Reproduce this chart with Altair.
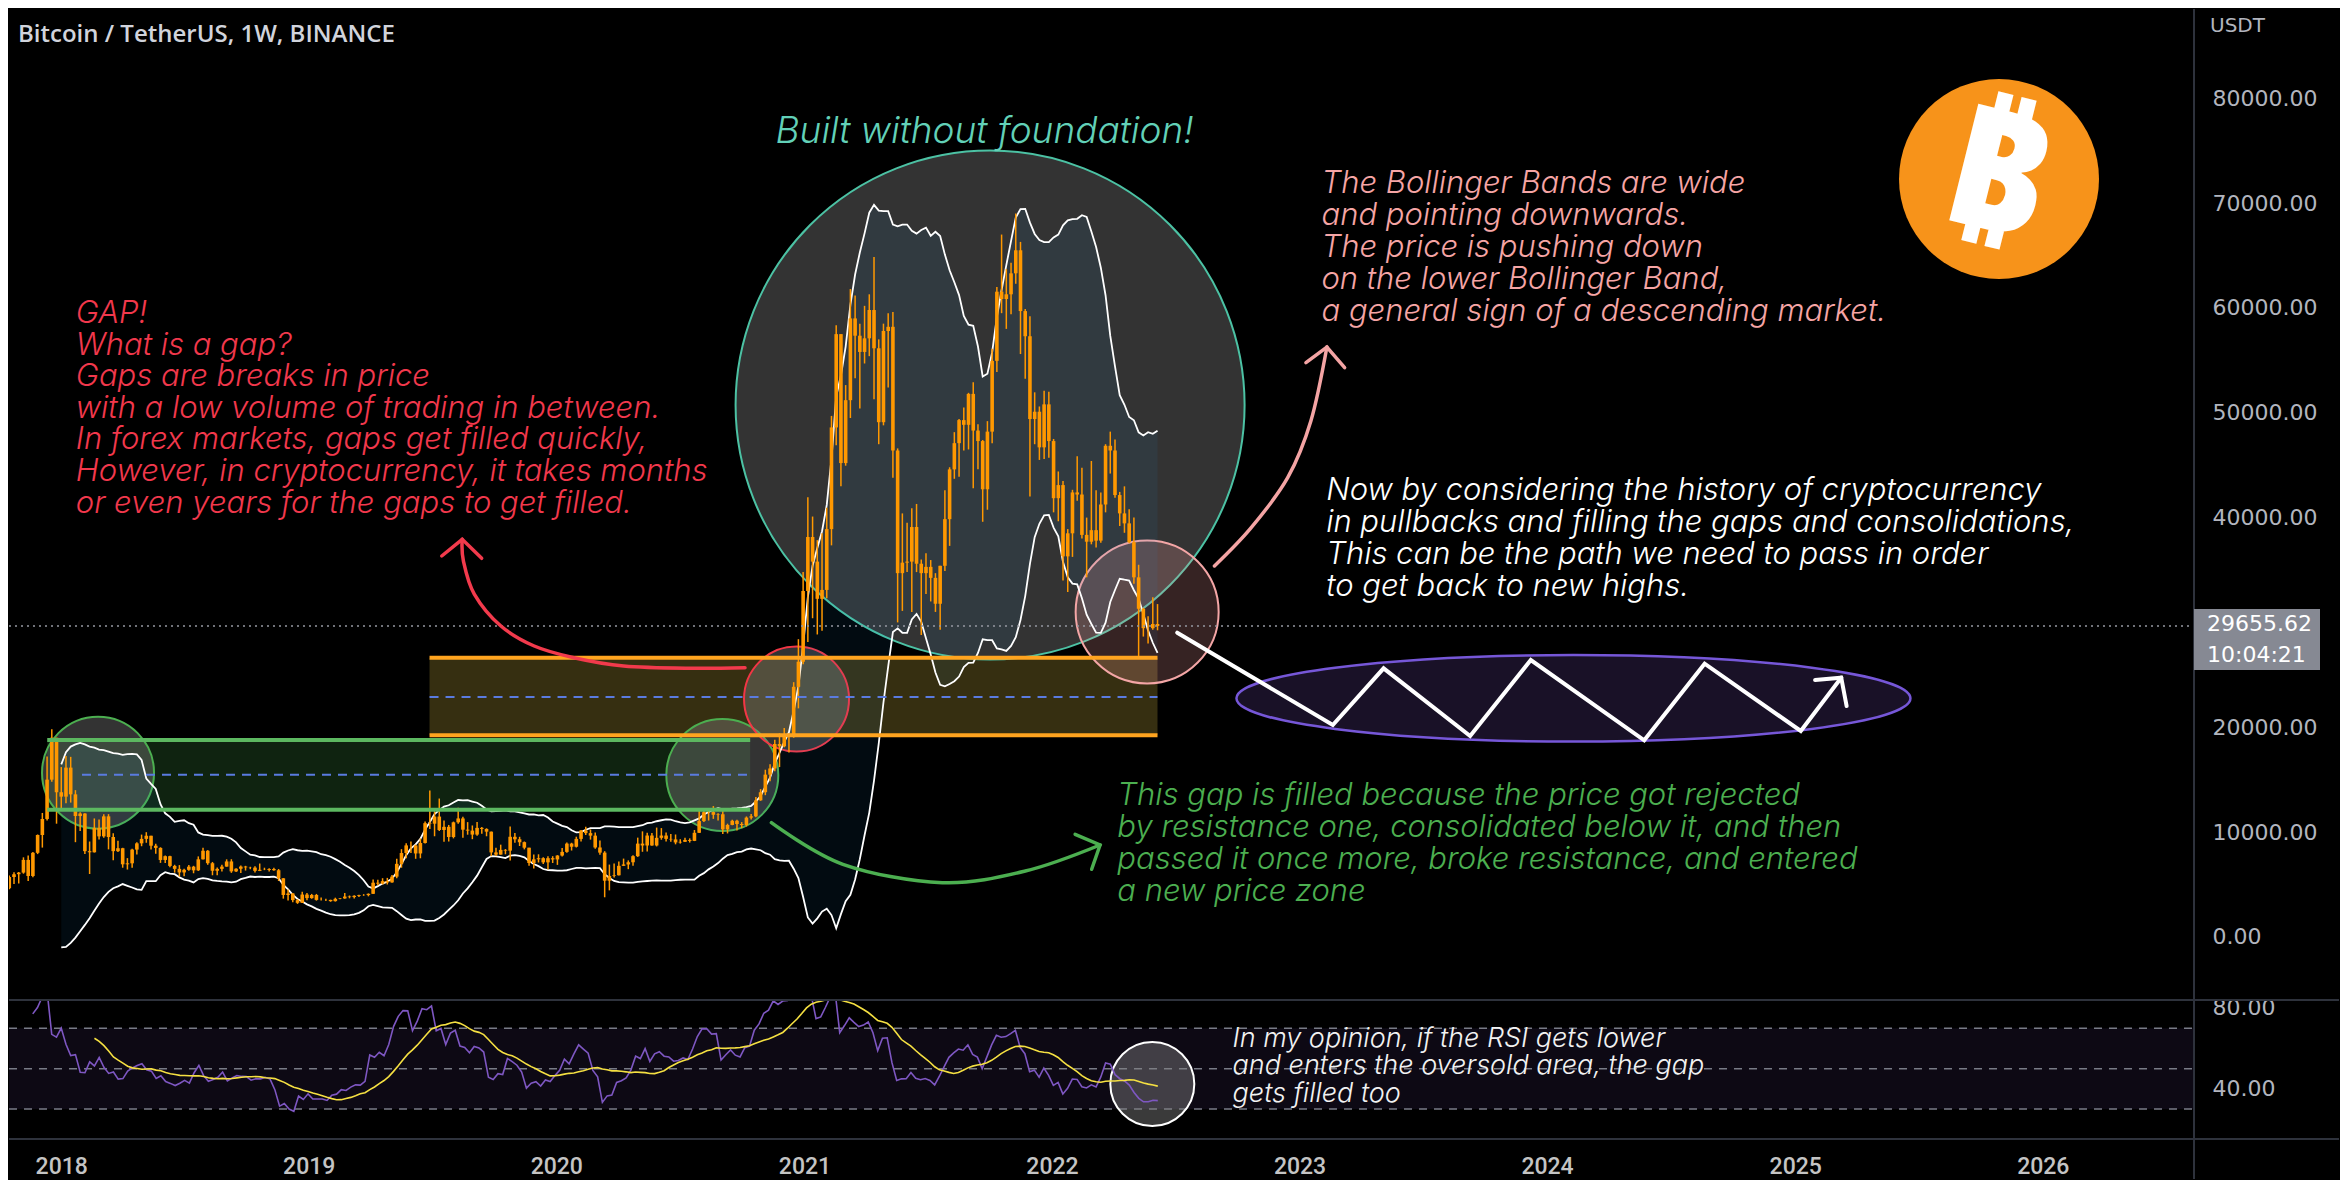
import altair as alt
import numpy as np
import pandas as pd

# ------------------------------------------------------------------ data
FIRST_WEEK = "2017-08-14"   # weekly candles, BTC/USDT (Binance)
FIRST_OPEN = 4261

CLOSE_2017 = [4086, 4310, 4509, 4130, 3699, 3660, 4378, 4640, 5710, 5980, 6133, 7345, 5811, 8021, 9720, 11250, 15000, 19000, 13800, 13380]
HIGH_2017 = [4485, 4453, 4939, 4788, 4394, 4123, 4406, 4658, 5856, 6171, 6189, 7590, 7776, 8100, 9771, 11825, 17204, 19798, 19000, 16200]
LOW_2017 = [3850, 3950, 4124, 3900, 2817, 3505, 3653, 4110, 4550, 5037, 5096, 6030, 5325, 5699, 7900, 8520, 11100, 14800, 10800, 12050]

CLOSE_2018 = [16150, 13600, 11530, 11770, 8180, 8070, 10400, 9590, 11500, 9530, 8180, 8460, 6925, 7020, 8330, 8925, 9350, 9650, 8700, 8490, 7340, 7700, 6770, 6490, 6150, 6400, 6700, 6350, 7400, 8220, 7030, 6310, 6490, 6705, 7200, 6250, 6500, 6710, 6630, 6610, 6300, 6400, 6390, 6480, 6360, 5590, 4000, 4140, 3510, 3250, 4040, 3700, 4000]
HIGH_2018 = [17252, 17176, 14000, 11900, 11785, 9100, 11300, 11200, 11700, 11710, 9880, 9177, 8500, 7515, 8400, 9035, 9760, 9990, 9650, 8880, 8550, 7770, 7750, 6880, 6850, 6500, 6850, 6780, 7680, 8500, 8280, 7150, 6615, 6890, 7400, 7410, 6560, 6800, 6780, 6690, 6740, 7000, 6600, 6550, 6600, 6480, 5610, 4530, 4200, 3600, 4300, 4200, 4100]
LOW_2018 = [12750, 12812, 9035, 10100, 7900, 6000, 8050, 9300, 9470, 8350, 7323, 8100, 6600, 6425, 6600, 7860, 8650, 8980, 8340, 7940, 7060, 7060, 6650, 6130, 5750, 5790, 6300, 6070, 6290, 7390, 6880, 5880, 5880, 6250, 6700, 6110, 6180, 6090, 6330, 6460, 6150, 6280, 6370, 6250, 6300, 5330, 3650, 3480, 3300, 3150, 3230, 3500, 3640]

CLOSE_2019 = [3530, 3530, 3530, 3410, 3630, 3670, 3850, 3800, 3920, 4000, 3990, 4110, 5170, 5080, 5320, 5200, 5750, 6970, 8000, 8730, 8720, 7960, 8960, 10850, 10800, 11480, 10200, 10500, 9530, 10930, 11300, 10230, 10140, 9760, 10400, 10300, 10040, 8060, 7850, 8300, 8230, 9550, 9310, 9040, 8510, 7050, 7400, 7510, 7110, 7510, 7390, 7760]
HIGH_2019 = [4100, 3760, 3650, 3550, 3740, 3700, 4200, 3950, 3970, 4030, 4080, 4150, 5470, 5460, 5600, 5630, 5900, 7450, 8370, 8940, 9100, 8800, 9390, 11000, 13970, 12000, 13200, 11100, 10680, 11000, 12330, 11450, 10950, 10630, 10950, 10480, 10360, 10050, 8500, 8800, 8380, 10540, 9900, 9550, 9100, 8500, 7860, 7880, 7600, 7700, 7700, 7800]
LOW_2019 = [3460, 3470, 3430, 3350, 3370, 3580, 3650, 3680, 3670, 3800, 3920, 3870, 4090, 4920, 5000, 5000, 5160, 5600, 6600, 7500, 8000, 7450, 7500, 8900, 10300, 9600, 10100, 9070, 9100, 9400, 10800, 9470, 9750, 9320, 9650, 9850, 9600, 7700, 7720, 7850, 7880, 7300, 8970, 8670, 8350, 6790, 6530, 7100, 6950, 6430, 7050, 6870]

CLOSE_2020 = [8110, 8900, 8600, 9350, 10150, 9900, 9660, 8530, 8040, 5360, 5820, 5880, 6780, 6910, 7120, 7700, 8900, 8720, 9670, 8720, 9450, 9670, 9350, 9300, 9010, 9070, 9250, 9160, 9930, 11050, 11900, 11910, 11650, 11700, 10260, 10680, 11080, 10770, 10670, 11380, 11500, 13030, 13800, 15480, 16070, 18400, 18180, 19150, 19270, 23860, 26250, 33000]
HIGH_2020 = [8470, 9000, 8980, 9560, 10190, 10500, 10250, 9960, 9190, 8180, 6900, 7000, 7200, 7470, 7300, 7790, 9470, 10070, 9940, 9900, 10430, 10380, 9950, 9820, 9770, 9320, 9460, 9400, 10200, 12100, 12120, 12080, 12480, 11800, 12090, 10800, 11180, 11180, 10950, 11490, 11720, 13350, 14100, 15950, 16480, 18800, 19420, 19920, 19400, 24300, 28400, 34800]
LOW_2020 = [7680, 8030, 8240, 8530, 9100, 9730, 9280, 8410, 7840, 3780, 4440, 5670, 5860, 6760, 6460, 6790, 7630, 8120, 8150, 8700, 8630, 9270, 9110, 9080, 8830, 8900, 9050, 9000, 9140, 9900, 10950, 11100, 11260, 11100, 9820, 9870, 10650, 10140, 10370, 10530, 11200, 11420, 12980, 13520, 14860, 15800, 16200, 18100, 17600, 19000, 21800, 26000]

CLOSE_2021 = [38150, 35800, 32250, 33100, 38900, 48600, 57500, 45200, 51200, 59000, 57350, 55800, 57100, 59800, 56150, 49100, 57800, 58200, 46400, 34700, 35700, 35800, 39100, 35600, 34700, 35300, 34250, 31780, 35400, 39850, 44600, 47100, 49300, 48850, 51800, 48300, 47300, 42700, 48200, 54950, 61550, 60850, 61300, 63300, 65500, 59700, 57300, 49400, 50100, 46700, 50800, 47300]
HIGH_2021 = [41950, 40100, 37850, 38500, 40950, 49700, 58350, 57500, 52640, 61800, 61180, 58500, 60200, 61300, 64850, 57000, 58500, 59500, 59600, 46600, 40400, 39500, 40900, 41300, 36000, 36600, 35950, 34700, 35400, 42600, 44800, 48150, 49400, 50500, 51900, 52900, 48900, 47400, 49200, 56100, 62000, 67000, 63700, 64300, 69000, 66300, 59900, 59200, 51950, 50600, 52100, 52000]
LOW_2021 = [28130, 30400, 28850, 29200, 32300, 37350, 46900, 43000, 44950, 49500, 53300, 50400, 54700, 55400, 51300, 47000, 48800, 52400, 43800, 30000, 31100, 34800, 31000, 34800, 28800, 32700, 32000, 31000, 29300, 34900, 37300, 43700, 43900, 46400, 46500, 42800, 44600, 39600, 40750, 47100, 53900, 59500, 58000, 59400, 62300, 55600, 53250, 42000, 47000, 45500, 45600, 45700]

CLOSE_2022 = [41850, 43100, 36300, 38500, 42400, 42200, 38350, 37700, 38800, 37800, 41250, 46850, 46400, 42150, 40400, 39450, 37650, 34300, 31300, 29450, 29450, 29850, 29655.62]
HIGH_2022 = [47500, 44400, 43500, 38900, 42650, 45850, 44750, 40000, 45400, 42600, 42400, 47000, 48200, 47450, 42450, 42980, 40800, 40020, 35500, 31400, 30600, 32400, 31750]
LOW_2022 = [40500, 39650, 34000, 32900, 36250, 41600, 38000, 34300, 37450, 37150, 37600, 40500, 44200, 41900, 39200, 38550, 37550, 33700, 26700, 28650, 28000, 29300, 29250]

LAST_PRICE = 29655.62
COUNTDOWN = "10:04:21"
TITLE = "Bitcoin / TetherUS, 1W, BINANCE"
CURRENCY = "USDT"
PRICE_TICKS = [0, 10000, 20000, 40000, 50000, 60000, 70000, 80000]
RSI_TICKS = [40, 80]
YEARS = list(range(2018, 2027))

# ------------------------------------------------ drawings (decimal year, price)
GREEN_BOX = (2017.924, 2020.775, 12134, 18783, 15473, 2018.065)
ORANGE_BOX = (2019.4745, 2022.427, 19231, 26640, 22885, 2019.4745)
BIG_CIRCLE = (2021.748, 50740)
GREEN_C1 = (2018.130, 15664)
GREEN_C2 = (2020.662, 15444)
RED_C = (2020.963, 22694)
PINK_C = (2022.385, 30993)
RSI_C = (2022.405, 42.4)
ELLIPSE = (2024.114, 22761)
LOGO = (2025.840, 72298)

RED_ARROW = [(2020.754, 25680), (2020.531, 25623), (2020.262, 25842), (2020.060, 26634), (2019.899, 27750),
             (2019.764, 29658), (2019.656, 32710), (2019.612, 35858), (2019.607, 37928)]
RED_HEAD = [(2019.524, 36335), (2019.607, 37928), (2019.686, 36116)]
GREEN_ARROW = [(2020.861, 10894), (2021.151, 6926), (2021.554, 5170), (2021.891, 6286), (2022.194, 8767)]
GREEN_HEAD = [(2022.093, 9787), (2022.194, 8767), (2022.160, 6449)]
PINK_ARROW = [(2022.658, 35381), (2022.807, 39035), (2022.955, 43804), (2023.049, 49213), (2023.114, 56272)]
PINK_HEAD = [(2023.029, 54775), (2023.114, 56272), (2023.186, 54298)]
ZIGZAG = [(2022.507, 29019), (2023.138, 20214), (2023.344, 25623), (2023.695, 19164), (2023.941, 26414),
          (2024.401, 18754), (2024.646, 26061), (2025.036, 19641), (2025.200, 24726)]
ZIG_HEAD = [(2025.094, 24507), (2025.200, 24726), (2025.222, 22026)]

HEADLINE = ("Built without foundation!", 2020.878, 75762)
RED_TEXT = (["GAP!", "What is a gap?", "Gaps are breaks in price",
             "with a low volume of trading in between.",
             "In forex markets, gaps get filled quickly,",
             "However, in cryptocurrency, it takes months",
             "or even years for the gaps to get filled."], 2018.040, 58562)
PINK_TEXT = (["The Bollinger Bands are wide", "and pointing downwards.", "The price is pushing down",
              "on the lower Bollinger Band,", "a general sign of a descending market."], 2023.092, 70992)
WHITE_TEXT = (["Now by considering the history of cryptocurrency",
               "in pullbacks and filling the gaps and consolidations,",
               "This can be the path we need to pass in order", "to get back to new highs."], 2023.111, 41716)
GREEN_TEXT = (["This gap is filled because the price got rejected",
               "by resistance one, consolidated below it, and then",
               "passed it once more, broke resistance, and entered", "a new price zone"], 2022.264, 12582)
RSI_TEXT = (["In my opinion, if the RSI gets lower", "and enters the oversold area, the gap",
             "gets filled too"], 2022.729, 60.7)

# ------------------------------------------------------------------ frame
closes = CLOSE_2017 + CLOSE_2018 + CLOSE_2019 + CLOSE_2020 + CLOSE_2021 + CLOSE_2022
highs = HIGH_2017 + HIGH_2018 + HIGH_2019 + HIGH_2020 + HIGH_2021 + HIGH_2022
lows = LOW_2017 + LOW_2018 + LOW_2019 + LOW_2020 + LOW_2021 + LOW_2022
n = len(closes)
c = np.array(closes, dtype=float)
o = np.concatenate([[FIRST_OPEN], c[:-1]])
h = np.maximum.reduce([np.array(highs, float), o, c])
l = np.minimum.reduce([np.array(lows, float), o, c])
dates = pd.date_range(FIRST_WEEK, periods=n, freq="7D")
df = pd.DataFrame({"date": dates, "open": o, "close": c, "high": h, "low": l})

# Bollinger bands (20, 2)
cs = pd.Series(c)
mid = cs.rolling(20).mean()
sd = cs.rolling(20).std(ddof=0)
df["bb_up"] = mid + 2 * sd
df["bb_lo"] = mid - 2 * sd

# RSI 14 (Wilder) and its 14 SMA
delta = np.diff(c, prepend=np.nan)
gain = np.where(delta > 0, delta, 0.0)
loss = np.where(delta < 0, -delta, 0.0)
ag = np.full(n, np.nan)
al = np.full(n, np.nan)
ag[14] = gain[1:15].mean()
al[14] = loss[1:15].mean()
for i in range(15, n):
    ag[i] = (ag[i - 1] * 13 + gain[i]) / 14
    al[i] = (al[i - 1] * 13 + loss[i]) / 14
df["rsi"] = 100 - 100 / (1 + ag / al)
df["rsi_ma"] = df["rsi"].rolling(14).mean()


def ts(y):
    return pd.Timestamp("2018-01-01") + pd.Timedelta(days=(y - 2018) * 365.25)


def pts(points):
    return pd.DataFrame({"t": [ts(a) for a, _ in points], "p": [b for _, b in points], "i": list(range(len(points)))})


# ------------------------------------------------------------------ scales
W, H1, H2 = 2185, 991, 139
XS = alt.Scale(domain=[alt.DateTime(year=2017, month=10, date=16), alt.DateTime(year=2026, month=8, date=12)])
YS = alt.Scale(domain=[-6019, 88516], nice=False, zero=False)
RS = alt.Scale(domain=[15.2, 83.95], nice=False, zero=False)
LBL = dict(labelFont="DejaVu Sans", labelFontSize=22, labelColor="#b2b5be", ticks=False,
           domain=False, grid=False, labelPadding=18, title=None)
YAX = alt.Axis(orient="right", values=PRICE_TICKS, format=".2f", **LBL)
RAX = alt.Axis(orient="right", values=RSI_TICKS, format=".2f", **LBL)
XAX = alt.Axis(values=[alt.DateTime(year=y, month=1, date=1) for y in YEARS], format="%Y",
               labelFont="Roboto", labelFontWeight=500, labelFontSize=23, labelColor="#c4c4c4",
               domain=False, ticks=False, grid=False, labelPadding=34, labelBaseline="alphabetic", title=None)


def X(f):
    return alt.X(f, scale=XS, axis=None)


def Y(f):
    return alt.Y(f, scale=YS, axis=YAX)


def XR(f):
    return alt.X(f, scale=XS, axis=XAX)


def YR(f):
    return alt.Y(f, scale=RS, axis=RAX)


ONE = pd.DataFrame({"k": [0]})
ORANGE = "#ff9800"
TXT = dict(align="left", baseline="alphabetic", font="Inter", fontStyle="italic", fontWeight=300)


def circle(pos, r, fill, fo, stroke, sw, yfun=Y):
    d = pd.DataFrame({"t": [ts(pos[0])], "p": [pos[1]]})
    return alt.Chart(d).mark_point(shape="circle", size=(2 * r) ** 2, filled=True, fill=fill, fillOpacity=fo,
                                   stroke=stroke, strokeWidth=sw, strokeOpacity=1, opacity=1).encode(
        x=X("t:T"), y=yfun("p:Q"))


def polyline(points, color, width, interp="linear"):
    return alt.Chart(pts(points)).mark_line(color=color, strokeWidth=width, interpolate=interp,
                                            strokeCap="round", strokeJoin="miter").encode(
        x=X("t:T"), y=Y("p:Q"), order="i:Q")


def textblock(spec, color, size, lh, yfun=Y):
    lines, t, p = spec
    d = pd.DataFrame({"t": [ts(t)], "p": [p]})
    return alt.Chart(d).mark_text(text=lines, lineHeight=lh, fontSize=size, color=color, **TXT).encode(
        x=X("t:T"), y=yfun("p:Q"))


# ------------------------------------------------------------------ price pane
boxes = pd.DataFrame({
    "t0": [ts(GREEN_BOX[0]), ts(ORANGE_BOX[0])], "t1": [ts(GREEN_BOX[1]), ts(ORANGE_BOX[1])],
    "p0": [GREEN_BOX[2], ORANGE_BOX[2]], "p1": [GREEN_BOX[3], ORANGE_BOX[3]],
    "fill": ["#4caf50", "#f7d44c"], "op": [0.2, 0.22]})
box_fill = alt.Chart(boxes).mark_rect().encode(
    x=X("t0:T"), x2="t1:T", y=Y("p0:Q"), y2="p1:Q",
    fill=alt.Fill("fill:N", scale=None), fillOpacity=alt.FillOpacity("op:Q", scale=None))

borders = pd.DataFrame({
    "t0": [ts(GREEN_BOX[0])] * 2 + [ts(ORANGE_BOX[0])] * 2,
    "t1": [ts(GREEN_BOX[1])] * 2 + [ts(ORANGE_BOX[1])] * 2,
    "p": [GREEN_BOX[2], GREEN_BOX[3], ORANGE_BOX[2], ORANGE_BOX[3]],
    "c": ["#5cb860", "#5cb860", "#ffa41f", "#ffa41f"]})
box_lines = alt.Chart(borders).mark_rule(strokeWidth=4).encode(
    x=X("t0:T"), x2="t1:T", y=Y("p:Q"), color=alt.Color("c:N", scale=None))

mids = pd.DataFrame({"t0": [ts(GREEN_BOX[5]), ts(ORANGE_BOX[5])], "t1": [ts(GREEN_BOX[1]), ts(ORANGE_BOX[1])],
                     "p": [GREEN_BOX[4], ORANGE_BOX[4]]})
mid_lines = alt.Chart(mids).mark_rule(strokeWidth=2, color="#5a7be0", strokeDash=[9, 7]).encode(
    x=X("t0:T"), x2="t1:T", y=Y("p:Q"))

bb = df.dropna(subset=["bb_up"])
bb_area = alt.Chart(bb).mark_area(color="#2196f3", opacity=0.07, clip=True).encode(
    x=X("date:T"), y=Y("bb_lo:Q"), y2="bb_up:Q")
bb_up = alt.Chart(bb).mark_line(color="white", strokeWidth=1.8, clip=True).encode(x=X("date:T"), y=Y("bb_up:Q"))
bb_lo = alt.Chart(bb).mark_line(color="white", strokeWidth=1.8, clip=True).encode(x=X("date:T"), y=Y("bb_lo:Q"))

wick = alt.Chart(df).mark_rule(color=ORANGE, strokeWidth=1.5, clip=True).encode(
    x=X("date:T"), y=Y("low:Q"), y2="high:Q")
body = alt.Chart(df).mark_bar(color=ORANGE, width=3.6, clip=True).encode(
    x=X("date:T"), y=Y("open:Q"), y2="close:Q")

cur = pd.DataFrame({"p": [LAST_PRICE]})
dotted = alt.Chart(cur).mark_rule(strokeDash=[2, 4], color="#9598a1", strokeWidth=1.5).encode(
    x=alt.value(0), x2=alt.value(W), y=Y("p:Q"))

ry = 43.3 / 337
ELL_PATH = f"M -1 0 A 1 {ry:.4f} 0 1 0 1 0 A 1 {ry:.4f} 0 1 0 -1 0 Z"
ell_df = pd.DataFrame({"t": [ts(ELLIPSE[0])], "p": [ELLIPSE[1]]})
ellipse = alt.Chart(ell_df).mark_point(shape=ELL_PATH, size=674 ** 2, filled=True, fill="#7e57c2",
                                       fillOpacity=0.2, stroke="#7657d8", strokeWidth=2.5, opacity=1).encode(
    x=X("t:T"), y=Y("p:Q"))

logo_df = pd.DataFrame({"t": [ts(LOGO[0])], "p": [LOGO[1]]})
logo = alt.Chart(logo_df).mark_point(shape="circle", size=200 ** 2, filled=True, fill="#f7931a",
                                     opacity=1, strokeWidth=0).encode(x=X("t:T"), y=Y("p:Q"))
logo_b = alt.Chart(logo_df).mark_text(text="\u20bf", font="Noto Sans", fontWeight=900, fontSize=168,
                                      color="white", angle=14, align="center", baseline="middle",
                                      dx=-2, dy=2).encode(x=X("t:T"), y=Y("p:Q"))

RECT_PATH = "M -1 -0.484 L 1 -0.484 L 1 0.484 L -1 0.484 Z"
price_box = alt.Chart(cur).mark_point(shape=RECT_PATH, size=126 ** 2, filled=True, fill="#868993",
                                      opacity=1, yOffset=13.5).encode(x=alt.value(W + 63), y=Y("p:Q"))
price_txt = alt.Chart(cur).mark_text(text=f"{LAST_PRICE:.2f}", font="DejaVu Sans", fontSize=22, color="white",
                                     align="left", baseline="middle", dy=-2).encode(x=alt.value(W + 13), y=Y("p:Q"))
count_txt = alt.Chart(cur).mark_text(text=COUNTDOWN, font="DejaVu Sans", fontSize=22, color="white",
                                     align="left", baseline="middle", dy=29).encode(x=alt.value(W + 13), y=Y("p:Q"))

title = alt.Chart(ONE).mark_text(text=TITLE, font="Open Sans", fontWeight=600, fontSize=24, color="#d1d4dc",
                                 align="left", baseline="alphabetic").encode(x=alt.value(9), y=alt.value(33))
usdt = alt.Chart(ONE).mark_text(text=CURRENCY, font="DejaVu Sans", fontSize=20, color="#b2b5be",
                                align="left", baseline="middle").encode(x=alt.value(W + 16), y=alt.value(17))
vsep1 = alt.Chart(ONE).mark_rule(color="#2e323c", strokeWidth=2).encode(
    x=alt.value(W), y=alt.value(0), y2=alt.value(H1))

head_df = pd.DataFrame({"t": [ts(HEADLINE[1])], "p": [HEADLINE[2]]})
headline = alt.Chart(head_df).mark_text(text=HEADLINE[0], fontSize=37, color="#62d1b8", **TXT).encode(
    x=X("t:T"), y=Y("p:Q"))

price = alt.layer(
    box_fill,
    circle(BIG_CIRCLE, 254.5, "#808080", 0.4, "#4cc2a4", 2),
    circle(GREEN_C1, 56, "#808080", 0.4, "#4caf50", 2),
    circle(GREEN_C2, 56, "#808080", 0.4, "#4caf50", 2),
    circle(RED_C, 52.5, "#808080", 0.4, "#f23645", 2),
    circle(PINK_C, 71.5, "#f4a0a0", 0.22, "#f4a6a6", 2),
    bb_area, bb_up, bb_lo,
    wick, body,
    box_lines, mid_lines, dotted,
    ellipse,
    polyline(ZIGZAG, "white", 4), polyline(ZIG_HEAD, "white", 4),
    polyline(RED_ARROW, "#f23a4c", 3.5, "cardinal"), polyline(RED_HEAD, "#f23a4c", 3.5),
    polyline(GREEN_ARROW, "#4caf50", 3.5, "cardinal"), polyline(GREEN_HEAD, "#4caf50", 3.5),
    polyline(PINK_ARROW, "#f4a4a4", 3.5, "cardinal"), polyline(PINK_HEAD, "#f4a4a4", 3.5),
    headline,
    textblock(RED_TEXT, "#f2384c", 31, 31.6),
    textblock(PINK_TEXT, "#f6a5a5", 31, 32),
    textblock(WHITE_TEXT, "#ffffff", 31, 32),
    textblock(GREEN_TEXT, "#4caf50", 31, 32),
    logo, logo_b,
    vsep1, price_box, price_txt, count_txt, title, usdt,
).properties(width=W, height=H1)

# ------------------------------------------------------------------ RSI pane
rs = df.dropna(subset=["rsi"])
rsm = df.dropna(subset=["rsi_ma"])
band = alt.Chart(pd.DataFrame({"a": [30], "b": [70]})).mark_rect(color="#7e57c2", opacity=0.1).encode(
    x=alt.value(0), x2=alt.value(W), y=YR("a:Q"), y2="b:Q")
levels = alt.Chart(pd.DataFrame({"v": [70, 50, 30]})).mark_rule(color="#787b86", strokeDash=[8, 7],
                                                               strokeWidth=1.5).encode(
    x=alt.value(0), x2=alt.value(W), y=YR("v:Q"))
rsi_c_df = pd.DataFrame({"t": [ts(RSI_C[0])], "p": [RSI_C[1]]})
rsi_circle = alt.Chart(rsi_c_df).mark_point(shape="circle", size=84 ** 2, filled=True, fill="#808080",
                                            fillOpacity=0.45, stroke="white", strokeWidth=2, opacity=1).encode(
    x=XR("t:T"), y=YR("p:Q"))
rsi_line = alt.Chart(rs).mark_line(color="#7e57c2", strokeWidth=1.6, clip=True).encode(
    x=XR("date:T"), y=YR("rsi:Q"))
rsi_ma = alt.Chart(rsm).mark_line(color="#f5e042", strokeWidth=1.6, clip=True).encode(
    x=XR("date:T"), y=YR("rsi_ma:Q"))
rsi_txt_df = pd.DataFrame({"t": [ts(RSI_TEXT[1])], "p": [RSI_TEXT[2]]})
rsi_txt = alt.Chart(rsi_txt_df).mark_text(text=RSI_TEXT[0], lineHeight=27.3, fontSize=27, color="#f2f2f2",
                                          **TXT).encode(x=XR("t:T"), y=YR("p:Q"))
hsep = alt.Chart(pd.DataFrame({"y": [0, H2]})).mark_rule(color="#2e323c", strokeWidth=2).encode(
    x=alt.value(0), x2=alt.value(2330), y=alt.Y("y:Q", scale=None, axis=None))
vsep2 = alt.Chart(ONE).mark_rule(color="#2e323c", strokeWidth=2).encode(
    x=alt.value(W), y=alt.value(0), y2=alt.value(H2 + 40))

rsi = alt.layer(band, levels, rsi_circle, rsi_line, rsi_ma, rsi_txt, hsep, vsep2).properties(width=W, height=H2)

chart = alt.vconcat(price, rsi, spacing=0, bounds="flush").resolve_scale(
    x="independent", y="independent").properties(padding=0, background="#000000").configure_view(strokeWidth=0)

chart.save("out.html", embed_options={"renderer": "svg", "actions": False})
